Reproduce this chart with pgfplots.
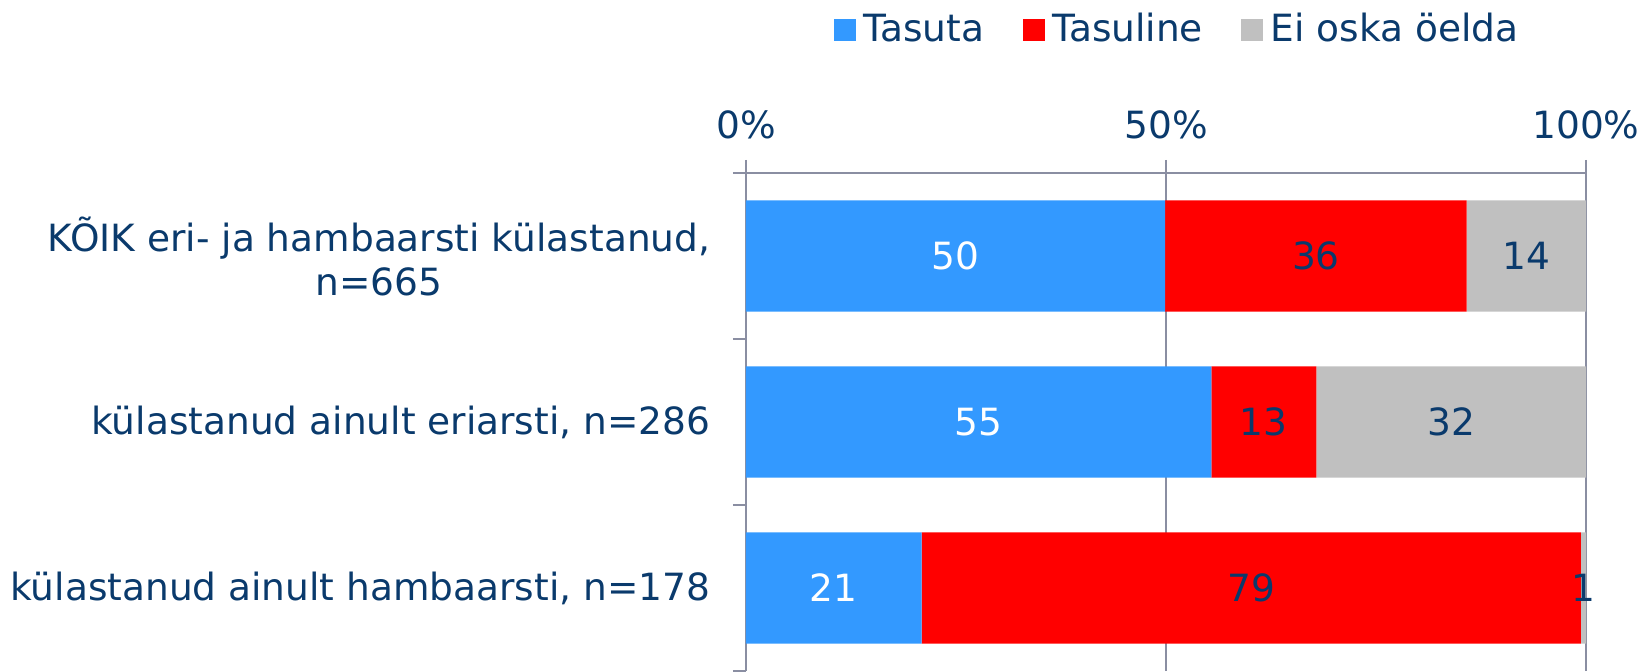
\documentclass[border=0pt]{standalone}
\usepackage{fontspec}
\setmainfont{DejaVu Sans}
\usepackage{pgfplots}
\usepackage{pgfplotstable}
\pgfplotsset{compat=1.18}
\definecolor{cblue}{HTML}{3399FF}
\definecolor{cred}{HTML}{FF0000}
\definecolor{cgray}{HTML}{C0C0C0}
\definecolor{navy}{HTML}{0A3A6C}
\definecolor{axcol}{HTML}{8A8EA2}

\pgfplotstableread{
y v lab
2 49.9 50
1 55.4 55
0 20.9 21
}\tasuta
\pgfplotstableread{
y v lab
2 35.9 36
1 12.5 13
0 78.5 79
}\tasuline
\pgfplotstableread{
y v lab
2 14.2 14
1 32.1 32
0 0.6 1
}\eioska

\newcommand{\fs}{\fontsize{11.25bp}{13.2bp}\selectfont}
\begin{document}
\fs
\begin{tikzpicture}
\begin{axis}[
  at={(0,0)}, anchor=south west,
  scale only axis,
  width=252bp, height=149.4bp,
  xbar stacked,
  bar width=0.67,
  xmin=0, xmax=100, ymin=-0.5, ymax=2.5,
  axis x line*=top, axis y line*=left,
  axis line style={draw=axcol, line width=0.8pt},
  xtick={0,50,100},
  xticklabels={0\%,50\%,100\%},
  xticklabel style={anchor=base, yshift=6.6bp, font=\fs, text=navy},
  xmajorgrids,
  grid style={draw=axcol, line width=0.8pt},
  ytick={-0.5,0.5,1.5,2.5},
  yticklabels={},
  extra y ticks={0,1,2},
  extra y tick labels={{külastanud ainult hambaarsti, n=178},{külastanud ainult eriarsti, n=286},{KÕIK eri- ja hambaarsti külastanud,\\n=665}},
  extra y tick style={major tick length=0pt, yticklabel style={align=center, anchor=east, xshift=-6.8bp, text=navy, font=\fs}, grid=none},
  tick align=outside,
  major tick length=3.9bp,
  tick style={draw=axcol, line width=0.8pt},
  every axis plot/.append style={draw=none},
  point meta=explicit symbolic,
  nodes near coords,
  every node near coord/.append style={anchor=center, font=\fs},
  legend columns=3,
  legend style={at={(0.5163,1.2865)}, anchor=center, draw=none, fill=none,
    font=\fs, text=navy,
    /tikz/every even column/.append style={column sep=9.5bp},
    /tikz/every odd column/.append style={column sep=0.3bp}},
  legend image code/.code={\fill[#1] (0bp,-3.3bp) rectangle (6.6bp,3.3bp);},
]
\addplot[fill=cblue, every node near coord/.append style={text=white}] table[x=v, y=y, meta=lab] {\tasuta};
\addplot[fill=cred, every node near coord/.append style={text=navy}] table[x=v, y=y, meta=lab] {\tasuline};
\addplot[fill=cgray, every node near coord/.append style={text=navy}] table[x=v, y=y, meta=lab] {\eioska};
\legend{Tasuta,Tasuline,Ei oska öelda}
\end{axis}
\pgfresetboundingbox
\useasboundingbox (-223.8bp,0bp) rectangle (270bp,201.3bp);
\end{tikzpicture}
\end{document}
